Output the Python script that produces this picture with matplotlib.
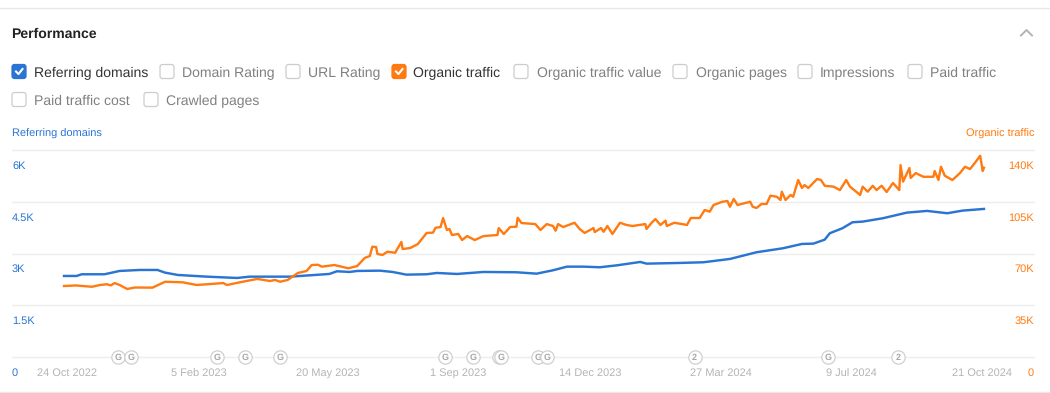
import matplotlib.pyplot as plt
from matplotlib.patches import FancyBboxPatch

plt.rcParams["font.family"] = ["Liberation Sans", "DejaVu Sans"]
plt.rcParams["text.hinting"] = "no_hinting"
plt.rcParams["text.hinting_factor"] = 1

BLUE = "#2a75d3"
ORANGE = "#ff7a10"
GRID = "#ededed"

# Days since 24 Oct 2022
domains_days = [
    0, 10, 14, 32, 44, 60, 74, 80, 90, 113, 137, 147, 179, 210, 216, 226, 232,
    250, 260, 271, 287, 295, 311, 332, 358, 374, 387, 398, 411, 424, 438, 456,
    461, 487, 506, 527, 548, 569, 584, 593, 602, 606, 616, 624, 632, 648, 667,
    683, 699, 711, 728,
]
domains = [
    2349, 2349, 2398, 2398, 2494, 2523, 2523, 2445, 2378, 2329, 2291, 2329, 2329,
    2407, 2485, 2465, 2494, 2503, 2465, 2387, 2398, 2436, 2407, 2465, 2456, 2416,
    2514, 2619, 2619, 2601, 2659, 2755, 2706, 2726, 2746, 2842, 3036, 3152, 3277,
    3286, 3402, 3587, 3732, 3906, 3924, 4022, 4185, 4234, 4167, 4243, 4292,
]

traffic_days = [
    0, 9.5, 22, 28.5, 34, 37, 40, 44, 50, 56, 70, 80, 94, 105, 116, 126, 129, 139,
    153, 163, 167, 171, 177, 185, 192, 196, 201, 204, 214, 225, 232, 238, 242, 244,
    247, 248, 252, 256, 262, 267, 268, 274, 280, 287, 292, 294, 298, 300, 303, 305,
    307, 312, 315, 319, 325, 332, 343, 344, 348, 351, 353, 358, 359, 362, 373, 377,
    382, 387, 389, 391, 395, 404, 408, 412, 419, 420, 425, 427, 430, 434, 440, 445,
    450, 460, 461, 465, 468, 472, 476, 477, 483, 493, 496, 503, 507, 511, 514, 521,
    525, 527, 530, 533, 543, 545, 548, 552, 556, 559, 564, 567, 568, 571, 575, 577,
    581, 584, 586, 589, 596, 599, 602, 609, 614, 619, 622, 630, 632, 636, 640, 643,
    647, 651, 656, 661, 662, 664, 669, 670, 674, 680, 688, 689, 692, 694, 697, 703,
    709, 713, 717, 722, 725, 727, 728,
]
traffic = [
    48.0, 48.4, 47.5, 48.7, 49.2, 48.4, 50.0, 48.7, 46.0, 47.0, 46.9, 50.9, 50.5,
    48.7, 49.4, 50.0, 48.7, 50.5, 52.8, 51.4, 52.1, 50.9, 52.1, 56.8, 58.2, 62.2,
    62.4, 61.1, 62.2, 60.0, 61.5, 67.0, 68.3, 74.6, 74.4, 69.7, 69.0, 71.2, 70.5,
    77.8, 73.0, 73.7, 76.4, 83.9, 84.1, 87.4, 87.9, 94.0, 85.9, 86.6, 82.5, 83.2,
    79.1, 81.8, 79.1, 81.8, 82.5, 87.2, 83.2, 85.9, 87.9, 88.1, 94.2, 90.6, 89.9,
    85.9, 89.9, 88.6, 85.4, 89.9, 87.9, 90.8, 86.6, 83.9, 87.2, 84.5, 87.2, 84.7,
    88.6, 83.2, 90.8, 89.3, 88.6, 89.9, 86.6, 90.8, 93.3, 89.3, 92.2, 88.6, 90.8,
    89.3, 94.0, 94.0, 99.4, 98.3, 102.8, 105.0, 105.5, 101.6, 106.9, 102.8, 105.0,
    101.6, 100.8, 103.5, 103.5, 109.1, 108.4, 106.2, 111.8, 106.2, 109.6, 108.4,
    119.7, 114.3, 116.3, 114.3, 120.4, 119.7, 115.8, 115.2, 112.9, 119.7, 115.2,
    109.6, 115.2, 111.8, 115.8, 112.9, 115.8, 111.6, 117.7, 112.9, 129.8, 118.6,
    127.8, 121.1, 124.4, 121.9, 121.9, 125.8, 119.7, 128.7, 122.6, 119.7, 124.4,
    128.7, 127.1, 132.6, 136.1, 125.8, 128.0,
]

x_tick_days = [0, 104, 208, 312, 416, 520, 624, 728]
x_tick_labels = [
    "24 Oct 2022", "5 Feb 2023", "20 May 2023", "1 Sep 2023",
    "14 Dec 2023", "27 Mar 2024", "9 Jul 2024", "21 Oct 2024",
]
x_tick_nudge = [3, 3, 1, 0, 1, 0, -1, -2]
x_tick_drop = [0, 1, 0, 0, 0, 0, 1, 0]

left_ticks = [0, 1500, 3000, 4500, 6000]
left_labels = ["0", "1.5K", "3K", "4.5K", "6K"]
right_ticks = [0, 35000, 70000, 105000, 140000]
right_labels = ["0", "35K", "70K", "105K", "140K"]

update_days = [43, 53, 121, 143, 171, 301.5, 324, 344, 346, 375, 382, 499, 604.5, 660]
update_marks = ["G", "G", "G", "G", "G", "G", "G", "G", "G", "G", "G", "2", "G", "2"]

# name, box left, text left, row centre, checked colour
checks = [
    ("Referring domains", 12, 34, 72, BLUE),
    ("Domain Rating", 160, 182, 72, None),
    ("URL Rating", 286, 308, 72, None),
    ("Organic traffic", 392, 413, 72, ORANGE),
    ("Organic traffic value", 514, 537, 72, None),
    ("Organic pages", 673, 696, 72, None),
    ("Impressions", 798, 820, 72, None),
    ("Paid traffic", 908, 930, 72, None),
    ("Paid traffic cost", 12, 34, 100, None),
    ("Crawled pages", 144, 166, 100, None),
]

fig = plt.figure(figsize=(10.5, 3.93), dpi=100)

# Plot area is x 12-1034, y 150-357 in pixels
ax = fig.add_axes([12 / 1050, 1 - 357 / 393, 1022 / 1050, 207 / 393])
ax.set_xlim(-41.15, 767.6)
ax.set_ylim(0, 6000)
ax2 = ax.twinx()
ax2.set_ylim(0, 140000)

for a in [ax, ax2]:
    for s in a.spines.values():
        s.set_visible(False)
    a.set_xticks([])
    a.set_yticks([])

for t in left_ticks:
    ax.axhline(t, color=GRID, linewidth=1.0, zorder=1, clip_on=False)

ax.plot(domains_days, domains, color=BLUE, linewidth=1.75, zorder=3)
ax2.plot(traffic_days, [v * 1000 for v in traffic], color=ORANGE, linewidth=1.7,
         zorder=3, solid_joinstyle="round")

for t, lab in zip(left_ticks, left_labels):
    ax.annotate(lab, (0, t), xycoords=("axes fraction", "data"), xytext=(0, -13.5),
                textcoords="offset points", color=BLUE, fontsize=8, ha="left", va="baseline")
for t, lab in zip(right_ticks, right_labels):
    ax2.annotate(lab, (1, t), xycoords=("axes fraction", "data"), xytext=(0, -13.5),
                 textcoords="offset points", color=ORANGE, fontsize=8, ha="right", va="baseline")
for d, lab, n, drop in zip(x_tick_days, x_tick_labels, x_tick_nudge, x_tick_drop):
    ax2.annotate(lab, (d, 0), xycoords="data", xytext=(n * 0.72, -13.5 - drop * 0.72),
                 textcoords="offset points", color="#b4b4b4", fontsize=8, ha="center", va="baseline")

# later markers sit on top of earlier ones, as in the overlapping pairs
for i, (d, m) in enumerate(zip(update_days, update_marks)):
    ax2.scatter([d], [0], s=92, facecolor="white", edgecolor="#d0d0d0", linewidth=0.9,
                clip_on=False, zorder=5 + i)
    ax2.annotate(m, (d, 0), xycoords="data", xytext=(0, -2.2), textcoords="offset points",
                 color="#a8a8a8", fontsize=6.2, fontweight="bold", ha="center",
                 va="baseline", zorder=5 + i)

# Page furniture in pixel coordinates
ui = fig.add_axes([0, 0, 1, 1], facecolor="none")
ui.set_xlim(0, 1050)
ui.set_ylim(393, 0)
ui.axis("off")

ui.plot([0, 1050], [7.5, 7.5], color="#e8e8e8", linewidth=1)
ui.plot([0, 1050], [392, 392], color="#e8e8e8", linewidth=1)
ui.text(11.5, 38, "Performance", fontsize=10.2, fontweight="bold", color="#222222", va="baseline")
ui.plot([1021, 1026.5, 1032], [35.5, 30, 35.5], color="#b4b4b4", linewidth=1.4)

for name, box_x, text_x, row_y, col in checks:
    face = col if col else "white"
    edge = col if col else "#cccccc"
    ui.add_patch(FancyBboxPatch((box_x + 2, row_y - 5.5), 10, 10,
                                boxstyle="round,pad=2,rounding_size=2.5",
                                facecolor=face, edgecolor=edge, linewidth=0.9))
    if col:
        ui.plot([box_x + 4, box_x + 6.5, box_x + 10.5],
                [row_y - 0.5, row_y + 2, row_y - 3], color="white", linewidth=1.5)
    ui.text(text_x, row_y + 5, name, fontsize=10.05, va="baseline",
            color="#333333" if col else "#808080")

ui.text(12, 137, "Referring domains", fontsize=7.85, color=BLUE, va="baseline")
ui.text(1034, 137, "Organic traffic", fontsize=7.85, color=ORANGE, va="baseline", ha="right")

fig.savefig("out.png", dpi=100)
